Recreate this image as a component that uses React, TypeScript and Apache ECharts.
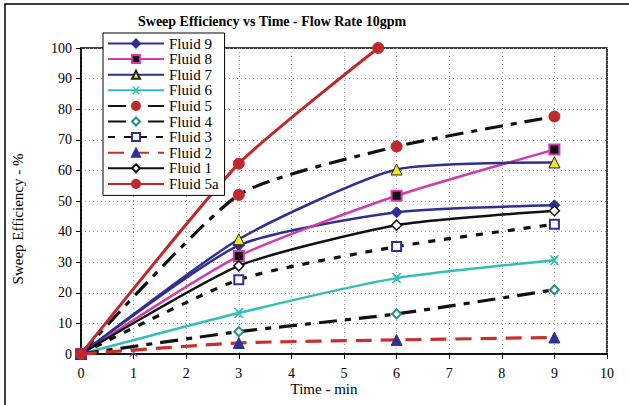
import React, { useEffect, useRef } from "react";
import * as echarts from "echarts";

const fluidNames = ["Fluid 9", "Fluid 8", "Fluid 7", "Fluid 6", "Fluid 5", "Fluid 4", "Fluid 3", "Fluid 2", "Fluid 1", "Fluid 5a"];
const timesStd = [0, 3, 6, 9];
const fluid9 = [0, 35.5, 46.3, 48.6];
const fluid8 = [0, 32, 51.7, 66.8];
const fluid7 = [0, 37.5, 60.3, 62.6];
const fluid6 = [0, 13.4, 24.8, 30.6];
const fluid5 = [0, 52, 67.8, 77.6];
const fluid4 = [0, 7.3, 13.1, 21];
const fluid3 = [0, 24.3, 35.1, 42.4];
const fluid2 = [0, 3.6, 4.6, 5.4];
const fluid1 = [0, 28.8, 42.1, 46.8];
const times5a = [0, 3, 5.65];
const fluid5a = [0, 62.2, 100];
const strayPoint = [1, 0.6];
const xTicks = [0, 1, 2, 3, 4, 5, 6, 7, 8, 9, 10];

const FONT = "Times New Roman, Liberation Serif, DejaVu Serif, serif";
const X_PATH = "path://M0,0 L2,0 L5,3 L8,0 L10,0 L6,5 L10,10 L8,10 L5,7 L2,10 L0,10 L4,5 Z";

function pairs(xs: number[], ys: number[]) {
  return xs.map((x, i) => [x, ys[i]]);
}

export default function App() {
  const ref = useRef<HTMLDivElement>(null);
  useEffect(() => {
    if (!ref.current) return;
    const chart = echarts.init(ref.current, null, { renderer: "svg" });
    const mk = (
      name: string,
      data: number[][],
      color: string,
      lineType: any,
      width: number,
      symbol: string,
      size: number,
      fill: string,
      border: string,
      borderW: number
    ) => ({
      name,
      type: "line",
      data,
      smooth: 0.2,
      symbol,
      symbolSize: size,
      showSymbol: true,
      lineStyle: { color, width, type: lineType },
      itemStyle: { color: fill, borderColor: border, borderWidth: borderW },
      emphasis: { disabled: true },
    });
    const series: any[] = [
      mk("Fluid 9", pairs(timesStd, fluid9), "#2E2F94", "solid", 2.5, "diamond", 11, "#2E2F94", "#2E2F94", 1),
      mk("Fluid 8", pairs(timesStd, fluid8), "#D33AAB", "solid", 2.5, "rect", 10, "#111111", "#D33AAB", 2),
      mk("Fluid 7", pairs(timesStd, fluid7), "#2E3192", "solid", 2.5, "triangle", 11, "#F4E61A", "#222222", 1),
      mk("Fluid 6", pairs(timesStd, fluid6), "#33BDBB", "solid", 2.5, X_PATH, 10, "#33BDBB", "#33BDBB", 0),
      mk("Fluid 5", pairs(timesStd, fluid5), "#111111", [18, 8, 6, 8], 3.2, "circle", 11, "#C0282D", "#C0282D", 1),
      mk("Fluid 4", pairs(timesStd, fluid4), "#111111", [18, 8, 6, 8], 3.2, "diamond", 9, "#ffffff", "#1F8F8F", 2),
      mk("Fluid 3", pairs(timesStd, fluid3), "#111111", [7, 9], 3.2, "rect", 9, "#ffffff", "#2E3192", 2),
      mk("Fluid 2", pairs(timesStd, fluid2), "#C8302F", [16, 9], 3.2, "triangle", 11, "#2E3192", "#2E3192", 1),
      mk("Fluid 1", pairs(timesStd, fluid1), "#111111", "solid", 2.5, "diamond", 10, "#ffffff", "#111111", 1.5),
      mk("Fluid 5a", pairs(times5a, fluid5a), "#C0282D", "solid", 3, "circle", 11, "#C0282D", "#C0282D", 1),
      {
        name: "extra",
        type: "scatter",
        data: [strayPoint],
        symbol: X_PATH,
        symbolSize: 9,
        itemStyle: { color: "#9B3AA0" },
        emphasis: { disabled: true },
      },
    ];
    chart.setOption({
      animation: false,
      backgroundColor: "#ffffff",
      textStyle: { fontFamily: FONT },
      title: {
        text: "Sweep Efficiency vs Time - Flow Rate 10gpm",
        left: 133,
        top: 9,
        textStyle: { fontFamily: FONT, fontSize: 14, fontWeight: "bold", color: "#000" },
      },
      grid: {
        left: 81,
        right: 22,
        top: 48,
        bottom: 51,
        show: true,
        borderColor: "#000",
        borderWidth: 1.5,
        backgroundColor: "transparent",
      },
      legend: {
        data: fluidNames,
        orient: "vertical",
        left: 103,
        top: 33,
        width: 120,
        padding: [3, 6, 4, 4],
        itemWidth: 56,
        itemHeight: 10,
        itemGap: 0.6,
        backgroundColor: "#ffffff",
        borderColor: "#000",
        borderWidth: 1,
        textStyle: { fontFamily: FONT, fontSize: 15, color: "#000", lineHeight: 14 },
        selectedMode: false,
      },
      xAxis: {
        type: "value",
        min: 0,
        max: 10,
        interval: 1,
        axisLine: { show: true, lineStyle: { color: "#000", width: 1.5 } },
        axisTick: { show: true, length: 5, lineStyle: { color: "#000" } },
        axisLabel: {
          fontFamily: FONT,
          fontSize: 14,
          color: "#000",
          margin: 12,
          formatter: (v: number) => (xTicks.includes(v) ? String(v) : ""),
        },
        splitLine: { show: true, lineStyle: { color: "#999", type: [1, 3], width: 1 } },
      },
      yAxis: {
        type: "value",
        min: 0,
        max: 100,
        interval: 10,
        axisLine: { show: true, lineStyle: { color: "#000", width: 1.5 } },
        axisTick: { show: true, length: 5, lineStyle: { color: "#000" } },
        axisLabel: { fontFamily: FONT, fontSize: 14, color: "#000", margin: 9 },
        splitLine: { show: true, lineStyle: { color: "#999", type: [1, 3], width: 1 } },
      },
      graphic: [
        {
          type: "rect",
          shape: { x: 5, y: 4, width: 700, height: 500 },
          style: { fill: "none", stroke: "#000", lineWidth: 1.5 },
          silent: true,
        },
        {
          type: "text",
          x: 18,
          y: 219,
          rotation: Math.PI / 2,
          style: {
            text: "Sweep Efficiency - %",
            fontFamily: FONT,
            fontSize: 15,
            fill: "#000",
            textAlign: "center",
            textVerticalAlign: "middle",
          },
        },
        {
          type: "text",
          x: 324,
          y: 389,
          style: {
            text: "Time - min",
            fontFamily: FONT,
            fontSize: 15,
            fill: "#000",
            textAlign: "center",
            textVerticalAlign: "middle",
          },
        },
      ],
      series,
    });
    return () => chart.dispose();
  }, []);
  return <div ref={ref} style={{ width: 629, height: 405, position: "absolute", left: 0, top: 0 }} />;
}
